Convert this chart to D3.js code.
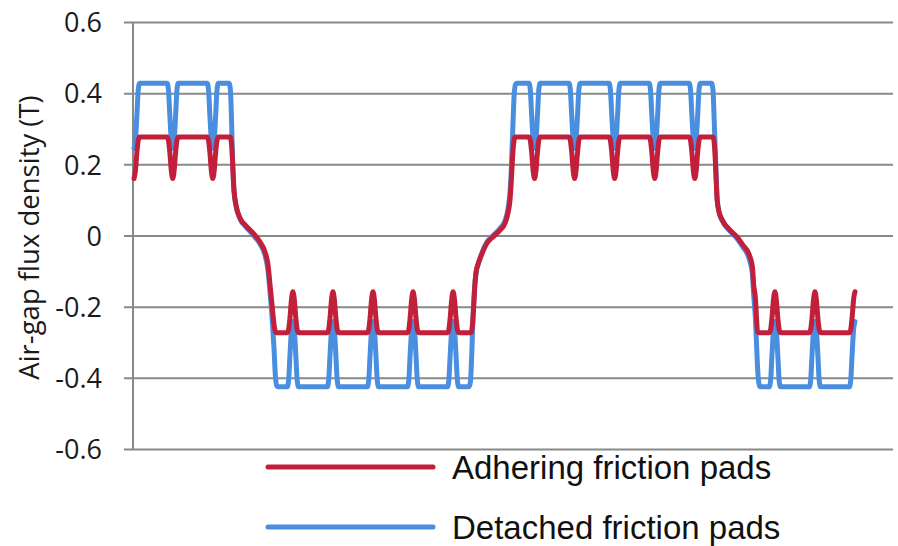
<!DOCTYPE html>
<html>
<head>
<meta charset="utf-8">
<script src="https://cdn.jsdelivr.net/npm/d3@7"></script>
<style>
  html, body { margin: 0; padding: 0; background: #ffffff; }
  svg { display: block; }
</style>
</head>
<body>
<svg id="chart" width="898" height="546"></svg>
<script>
// Air-gap flux density over electrical angle (degrees), two pad conditions.
const yTicks = [-0.6, -0.4, -0.2, 0, 0.2, 0.4, 0.6];
const angleRange = [0, 540];
const seriesNames = ["Adhering friction pads", "Detached friction pads"];

// [angle (deg), flux density (T)]
const adhering = [
  [0,0.16],[1,0.18],[2.2,0.235],[3.2,0.268],[4.2,0.277],
  [24.8,0.277],[25.8,0.268],[26.8,0.235],[28,0.18],[29,0.16],[30,0.18],[31.2,0.235],[32.2,0.268],[33.2,0.277],
  [54.8,0.277],[55.8,0.268],[56.8,0.235],[58,0.18],[59,0.16],[60,0.18],[61.2,0.235],[62.2,0.268],[63.2,0.277],
  [72.0,0.277],[73.2,0.25],[74.1,0.184],[74.9,0.128],[76.4,0.086],[79.4,0.049],[83.9,0.027],[89.1,0.007],
  [94.4,-0.018],[98.1,-0.046],[100.4,-0.083],[101.9,-0.139],[103.4,-0.195],[104.9,-0.251],[106.4,-0.273],
  [114.8,-0.273],[115.8,-0.264],[116.8,-0.232],[118,-0.178],[119,-0.158],[120,-0.178],[121.2,-0.232],[122.2,-0.264],[123.2,-0.273],
  [144.8,-0.273],[145.8,-0.264],[146.8,-0.232],[148,-0.178],[149,-0.158],[150,-0.178],[151.2,-0.232],[152.2,-0.264],[153.2,-0.273],
  [174.8,-0.273],[175.8,-0.264],[176.8,-0.232],[178,-0.178],[179,-0.158],[180,-0.178],[181.2,-0.232],[182.2,-0.264],[183.2,-0.273],
  [204.8,-0.273],[205.8,-0.264],[206.8,-0.232],[208,-0.178],[209,-0.158],[210,-0.178],[211.2,-0.232],[212.2,-0.264],[213.2,-0.273],
  [234.8,-0.273],[235.8,-0.264],[236.8,-0.232],[238,-0.178],[239,-0.158],[240,-0.178],[241.2,-0.232],[242.2,-0.264],[243.2,-0.273],
  [252.4,-0.273],[253.9,-0.232],[254.7,-0.181],[255.4,-0.134],[256.2,-0.103],[257.7,-0.08],[259.9,-0.058],[264.4,-0.021],
  [268.9,-0.004],[274.1,0.015],[277.9,0.035],[280.1,0.063],[281.6,0.1],[282.4,0.142],[283.1,0.19],[283.9,0.24],[285.4,0.277],
  [295.8,0.277],[296.8,0.268],[297.8,0.235],[299,0.18],[300,0.16],[301,0.18],[302.2,0.235],[303.2,0.268],[304.2,0.277],
  [325.8,0.277],[326.8,0.268],[327.8,0.235],[329,0.18],[330,0.16],[331,0.18],[332.2,0.235],[333.2,0.268],[334.2,0.277],
  [355.8,0.277],[356.8,0.268],[357.8,0.235],[359,0.18],[360,0.16],[361,0.18],[362.2,0.235],[363.2,0.268],[364.2,0.277],
  [385.8,0.277],[386.8,0.268],[387.8,0.235],[389,0.18],[390,0.16],[391,0.18],[392.2,0.235],[393.2,0.268],[394.2,0.277],
  [415.8,0.277],[416.8,0.268],[417.8,0.235],[419,0.18],[420,0.16],[421,0.18],[422.2,0.235],[423.2,0.268],[424.2,0.277],
  [433.7,0.277],[435.2,0.226],[436.0,0.156],[436.7,0.1],[438.2,0.066],[440.5,0.044],[446.4,0.015],[451.6,-0.004],
  [456.1,-0.027],[460.2,-0.049],[463.2,-0.089],[464.0,-0.134],[465.5,-0.181],[466.2,-0.229],[467.0,-0.271],[468.5,-0.273],
  [475.8,-0.273],[476.8,-0.264],[477.8,-0.232],[479,-0.178],[480,-0.158],[481,-0.178],[482.2,-0.232],[483.2,-0.264],[484.2,-0.273],
  [505.8,-0.273],[506.8,-0.264],[507.8,-0.232],[509,-0.178],[510,-0.158],[511,-0.178],[512.2,-0.232],[513.2,-0.264],[514.2,-0.273],
  [535.8,-0.273],[536.8,-0.264],[537.8,-0.232],[539,-0.178],[540,-0.158]
];

const detached = [
  [0,0.245],[1,0.265],[2.2,0.34],[3.2,0.41],[4.2,0.428],
  [24.8,0.428],[25.8,0.41],[26.8,0.34],[28,0.265],[29,0.245],[30,0.265],[31.2,0.34],[32.2,0.41],[33.2,0.428],
  [54.8,0.428],[55.8,0.41],[56.8,0.34],[58,0.265],[59,0.245],[60,0.265],[61.2,0.34],[62.2,0.41],[63.2,0.428],
  [71.2,0.428],[72.2,0.41],[73.0,0.33],[73.8,0.22],[74.6,0.14],[76.0,0.09],[79.4,0.047],[83.9,0.024],[89.1,0.002],
  [94.4,-0.024],[98.1,-0.055],[100.4,-0.1],[101.9,-0.16],[103.4,-0.23],[104.9,-0.32],[105.9,-0.395],[106.9,-0.422],[107.9,-0.425],
  [114.8,-0.425],[115.8,-0.407],[116.8,-0.337],[118,-0.262],[119,-0.242],[120,-0.262],[121.2,-0.337],[122.2,-0.407],[123.2,-0.425],
  [144.8,-0.425],[145.8,-0.407],[146.8,-0.337],[148,-0.262],[149,-0.242],[150,-0.262],[151.2,-0.337],[152.2,-0.407],[153.2,-0.425],
  [174.8,-0.425],[175.8,-0.407],[176.8,-0.337],[178,-0.262],[179,-0.242],[180,-0.262],[181.2,-0.337],[182.2,-0.407],[183.2,-0.425],
  [204.8,-0.425],[205.8,-0.407],[206.8,-0.337],[208,-0.262],[209,-0.242],[210,-0.262],[211.2,-0.337],[212.2,-0.407],[213.2,-0.425],
  [234.8,-0.425],[235.8,-0.407],[236.8,-0.337],[238,-0.262],[239,-0.242],[240,-0.262],[241.2,-0.337],[242.2,-0.407],[243.2,-0.425],
  [251.0,-0.425],[252.0,-0.41],[253.0,-0.33],[254.0,-0.22],[255.0,-0.15],[256.2,-0.105],[257.7,-0.082],[259.9,-0.056],[264.4,-0.018],
  [268.9,0.0],[274.1,0.02],[277.9,0.042],[280.1,0.075],[281.6,0.12],[282.4,0.17],[283.1,0.24],[283.9,0.32],[284.8,0.4],[285.8,0.425],[286.8,0.428],
  [295.8,0.428],[296.8,0.41],[297.8,0.34],[299,0.265],[300,0.245],[301,0.265],[302.2,0.34],[303.2,0.41],[304.2,0.428],
  [325.8,0.428],[326.8,0.41],[327.8,0.34],[329,0.265],[330,0.245],[331,0.265],[332.2,0.34],[333.2,0.41],[334.2,0.428],
  [355.8,0.428],[356.8,0.41],[357.8,0.34],[359,0.265],[360,0.245],[361,0.265],[362.2,0.34],[363.2,0.41],[364.2,0.428],
  [385.8,0.428],[386.8,0.41],[387.8,0.34],[389,0.265],[390,0.245],[391,0.265],[392.2,0.34],[393.2,0.41],[394.2,0.428],
  [415.8,0.428],[416.8,0.41],[417.8,0.34],[419,0.265],[420,0.245],[421,0.265],[422.2,0.34],[423.2,0.41],[424.2,0.428],
  [432.6,0.428],[433.6,0.41],[434.5,0.33],[435.3,0.24],[436.1,0.16],[436.8,0.105],[438.2,0.065],[440.5,0.042],[446.4,0.012],
  [451.6,-0.008],[456.1,-0.033],[460.2,-0.06],[463.2,-0.11],[464.0,-0.16],[465.5,-0.24],[466.2,-0.3],[467.0,-0.37],[468.0,-0.415],[469.0,-0.425],
  [475.8,-0.425],[476.8,-0.407],[477.8,-0.337],[479,-0.262],[480,-0.242],[481,-0.262],[482.2,-0.337],[483.2,-0.407],[484.2,-0.425],
  [505.8,-0.425],[506.8,-0.407],[507.8,-0.337],[509,-0.262],[510,-0.242],[511,-0.262],[512.2,-0.337],[513.2,-0.407],[514.2,-0.425],
  [535.8,-0.425],[536.8,-0.407],[537.8,-0.337],[539,-0.262],[540,-0.242]
];

const colors = { adhering: "#c21f3a", detached: "#4a8ee0" };

const svg = d3.select("#chart");

const x = d3.scaleLinear().domain(angleRange).range([134, 855]);
const y = d3.scaleLinear().domain([-0.6, 0.6]).range([449, 22]);

const axisFont = "'Open Sans', 'Liberation Sans', sans-serif";
const gridColor = "#868a88";

// Horizontal gridlines (including the short stubs left of the axis)
const grid = svg.append("g")
  .attr("transform", "translate(124,0)")
  .call(d3.axisRight(y).tickValues(yTicks).tickSize(769).tickFormat(""));
grid.select(".domain").remove();
grid.selectAll(".tick line").attr("stroke", gridColor).attr("stroke-width", 2);

// Tick labels
const labels = svg.append("g")
  .attr("transform", "translate(124,0)")
  .call(d3.axisLeft(y).tickValues(yTicks).tickSize(0).tickPadding(22)
    .tickFormat(d => String(d)));
labels.select(".domain").remove();
labels.selectAll(".tick text")
  .attr("font-family", axisFont)
  .attr("font-size", 27)
  .attr("dy", "0.36em")
  .attr("fill", "#1a1a1a");

// Vertical value axis
svg.append("line")
  .attr("x1", 133).attr("x2", 133)
  .attr("y1", y(0.6)).attr("y2", y(-0.6))
  .attr("stroke", gridColor).attr("stroke-width", 2);

// Axis title
svg.append("text")
  .attr("transform", `translate(39,${(y(0.6) + y(-0.6)) / 2 + 2}) rotate(-90)`)
  .attr("text-anchor", "middle")
  .attr("font-family", axisFont)
  .attr("font-size", 27.5)
  .attr("fill", "#1a1a1a")
  .text("Air-gap flux density (T)");

// Waveforms
const line = d3.line()
  .x(d => x(d[0]))
  .y(d => y(d[1]))
  .curve(d3.curveMonotoneX);

[[detached, colors.detached], [adhering, colors.adhering]].forEach(([data, c]) => {
  svg.append("path")
    .datum(data)
    .attr("d", line)
    .attr("fill", "none")
    .attr("stroke", c)
    .attr("stroke-width", 5)
    .attr("stroke-linejoin", "round")
    .attr("stroke-linecap", "round");
});

// Legend
const legend = svg.append("g").attr("font-family", "'Liberation Sans', Arial, sans-serif");
[[seriesNames[0], colors.adhering, 467], [seriesNames[1], colors.detached, 527]].forEach(([name, c, ly]) => {
  legend.append("line")
    .attr("x1", 268).attr("x2", 433)
    .attr("y1", ly).attr("y2", ly)
    .attr("stroke", c).attr("stroke-width", 5)
    .attr("stroke-linecap", "round");
  legend.append("text")
    .attr("x", 452).attr("y", ly + 11.5)
    .attr("font-size", 33)
    .attr("fill", "#111")
    .text(name);
});
</script>
</body>
</html>
